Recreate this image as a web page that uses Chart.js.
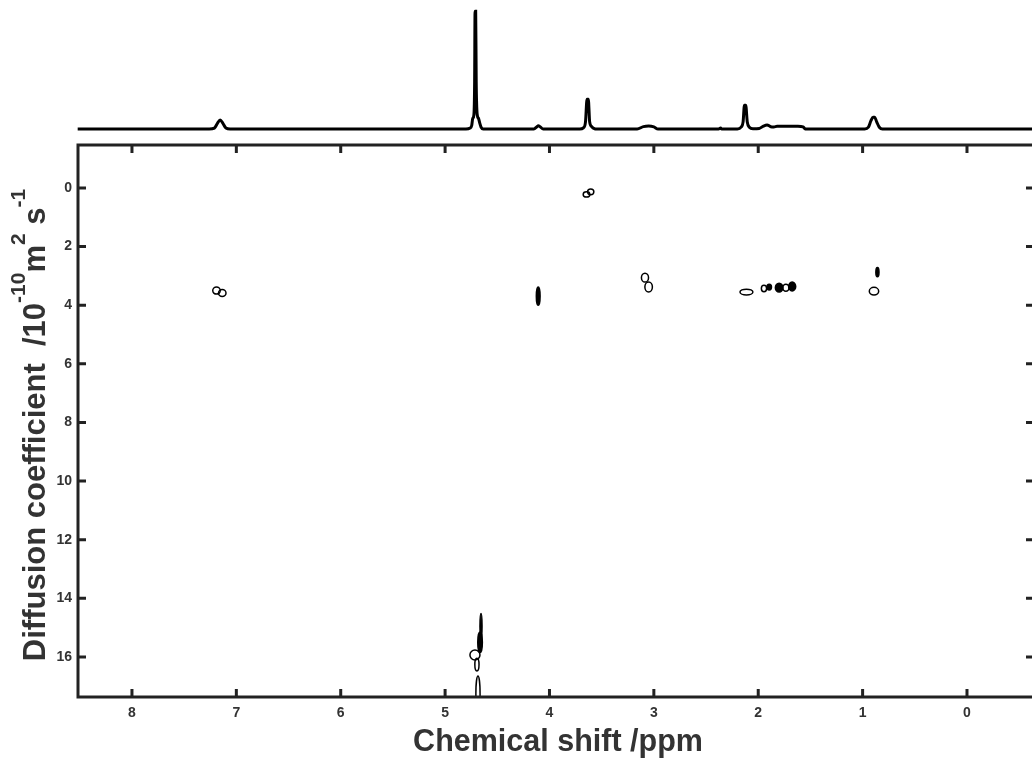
<!DOCTYPE html>
<html>
<head>
<meta charset="utf-8">
<title>DOSY</title>
<script src="https://cdn.jsdelivr.net/npm/chart.js@4.4.1/dist/chart.umd.min.js"></script>
<style>
  html, body { margin: 0; padding: 0; background: #fff; overflow: hidden; }
  #wrap { position: relative; width: 1032px; height: 758px; overflow: hidden; }
  canvas { position: absolute; left: 0; top: 0; }
</style>
</head>
<body>
<div id="wrap">
  <canvas id="dosy" width="1040" height="758"></canvas>
  <canvas id="spectrum" width="1040" height="145"></canvas>
</div>
<script>
// 1H projection (ppm, intensity)
const specPpm = [8.52, 7.26, 7.21, 7.18, 7.155, 7.13, 7.10, 7.06,
  4.80, 4.76, 4.745, 4.735, 4.724, 4.717, 4.713, 4.707, 4.702, 4.692, 4.68, 4.668, 4.655, 4.635,
  4.15, 4.12, 4.107, 4.09, 4.06,
  3.71, 3.675, 3.655, 3.64, 3.628, 3.615, 3.595, 3.57, 3.55,
  3.16, 3.10, 3.05, 3.00, 2.96,
  2.38, 2.36, 2.35,
  2.20, 2.165, 2.145, 2.132, 2.120, 2.105, 2.085, 2.05,
  1.99, 1.95, 1.915, 1.88, 1.85, 1.82, 1.62, 1.57, 1.55,
  0.98, 0.945, 0.92, 0.90, 0.885, 0.865, 0.84, 0.81, -0.65];
const specInt = [0, 0, 0.8, 5, 7.6, 5, 0.8, 0,
  0, 0.8, 3, 9, 12, 40, 99, 99, 40, 12, 9, 5, 1.5, 0,
  0, 2, 2.8, 2, 0,
  0, 1, 6, 25, 25, 6, 2, 0.3, 0,
  0, 2, 2.5, 1.8, 0,
  0, 0.8, 0,
  0, 1.5, 6, 20, 20, 6, 1.5, 0.3,
  0.5, 2.5, 3.4, 2.0, 1.8, 2.3, 2.3, 1.8, 0,
  0, 1.5, 7, 10, 10, 6, 1.5, 0, 0];

// contour islands: centre (ppm, D) and half sizes in the same units
const blobPpm  = [7.19, 7.135, 3.645, 3.605, 3.085, 3.05, 2.113, 1.945, 1.895, 1.80, 1.735, 1.675, 0.858, 0.891, 4.108, 4.656, 4.665, 4.714, 4.695, 4.685];
const blobD    = [3.50, 3.58, 0.22, 0.13, 3.06, 3.38, 3.55, 3.43, 3.38, 3.40, 3.40, 3.36, 2.87, 3.52, 3.69, 14.95, 15.5, 15.93, 16.26, 17.25];
const blobRx   = [0.036, 0.036, 0.032, 0.03, 0.034, 0.036, 0.062, 0.025, 0.022, 0.036, 0.03, 0.034, 0.015, 0.045, 0.018, 0.010, 0.022, 0.048, 0.02, 0.02];
const blobRy   = [0.12, 0.12, 0.09, 0.10, 0.15, 0.17, 0.10, 0.11, 0.10, 0.15, 0.12, 0.15, 0.16, 0.13, 0.31, 0.43, 0.35, 0.17, 0.22, 0.60];
const blobFill = [0, 0, 0, 0, 0, 0, 0, 0, 1, 1, 0, 1, 1, 0, 1, 1, 1, 0, 0, 0];

const xTicks = [8, 7, 6, 5, 4, 3, 2, 1, 0];
const yTicks = [0, 2, 4, 6, 8, 10, 12, 14, 16];
const xMin = -0.642, xMax = 8.517;
const yMin = -1.467, yMax = 17.365;

const fontFamily = '"Liberation Sans", Arial, sans-serif';
const ink = "#222";
const labelColor = "#333";

const blobPlugin = {
  id: "blobs",
  afterDatasetsDraw(chart) {
    const { ctx, chartArea: a, scales: { x, y } } = chart;
    ctx.save();
    ctx.beginPath();
    ctx.rect(a.left, a.top, a.right - a.left, a.bottom - a.top);
    ctx.clip();
    ctx.lineWidth = 1.5;
    ctx.strokeStyle = "#000";
    ctx.fillStyle = "#000";
    blobPpm.forEach((p, i) => {
      const cx = x.getPixelForValue(p);
      const cy = y.getPixelForValue(blobD[i]);
      const rx = Math.abs(x.getPixelForValue(p + blobRx[i]) - cx);
      const ry = Math.abs(y.getPixelForValue(blobD[i] + blobRy[i]) - cy);
      ctx.beginPath();
      ctx.ellipse(cx, cy, rx, ry, 0, 0, Math.PI * 2);
      if (blobFill[i]) ctx.fill();
      ctx.stroke();
    });
    ctx.restore();
  }
};

const framePlugin = {
  id: "frame",
  afterDraw(chart) {
    const { ctx, chartArea: a, scales: { x, y } } = chart;
    const tick = 8;
    ctx.save();
    ctx.strokeStyle = ink;
    ctx.lineWidth = 3;
    ctx.lineCap = "butt";
    ctx.strokeRect(a.left, a.top, a.right - a.left, a.bottom - a.top);
    ctx.beginPath();
    xTicks.forEach(v => {
      const px = x.getPixelForValue(v);
      ctx.moveTo(px, a.bottom); ctx.lineTo(px, a.bottom - tick);
      ctx.moveTo(px, a.top); ctx.lineTo(px, a.top + tick);
    });
    yTicks.forEach(v => {
      const py = y.getPixelForValue(v);
      ctx.moveTo(a.left, py); ctx.lineTo(a.left + tick, py);
      ctx.moveTo(a.right, py); ctx.lineTo(a.right - tick, py);
    });
    ctx.stroke();
    ctx.restore();
  }
};

// axis titles, y title carries superscripts
const titlePlugin = {
  id: "titles",
  afterDraw(chart) {
    const { ctx } = chart;
    ctx.save();
    ctx.fillStyle = labelColor;
    ctx.textBaseline = "alphabetic";
    ctx.textAlign = "center";
    ctx.font = "bold 30.5px " + fontFamily;
    ctx.fillText("Chemical shift /ppm", 558, 751);

    const parts = [
      ["Diffusion coefficient  /10", 31, 0],
      ["-10", 21, 20],
      ["m", 31, 0],
      ["2", 21, 20],
      [" s", 31, 0],
      ["-1", 21, 20]
    ];
    ctx.textAlign = "left";
    let total = 0;
    parts.forEach(([t, s]) => { ctx.font = "bold " + s + "px " + fontFamily; total += ctx.measureText(t).width; });
    ctx.translate(45, 425);
    ctx.rotate(-Math.PI / 2);
    let pos = -total / 2;
    parts.forEach(([t, s, lift]) => {
      ctx.font = "bold " + s + "px " + fontFamily;
      ctx.fillText(t, pos, -lift);
      pos += ctx.measureText(t).width;
    });
    ctx.restore();
  }
};

new Chart(document.getElementById("dosy"), {
  type: "scatter",
  data: {
    datasets: [{
      data: blobPpm.map((p, i) => ({ x: p, y: blobD[i] })),
      pointRadius: 0
    }]
  },
  options: {
    responsive: false,
    animation: false,
    devicePixelRatio: 1,
    layout: { padding: { top: 145, right: 6, left: 0, bottom: 0 } },
    plugins: { legend: { display: false }, tooltip: { enabled: false } },
    scales: {
      x: {
        type: "linear",
        reverse: true,
        min: xMin,
        max: xMax,
        afterBuildTicks: s => { s.ticks = xTicks.map(v => ({ value: v })); },
        afterFit: s => { s.height = 61; },
        grid: { display: false, drawTicks: false },
        border: { display: false },
        ticks: { font: { family: fontFamily, size: 14, weight: "bold" }, color: labelColor, padding: 8, maxRotation: 0, autoSkip: false }
      },
      y: {
        type: "linear",
        reverse: true,
        min: yMin,
        max: yMax,
        afterBuildTicks: s => { s.ticks = yTicks.map(v => ({ value: v })); },
        afterFit: s => { s.width = 78; },
        grid: { display: false, drawTicks: false },
        border: { display: false },
        ticks: { font: { family: fontFamily, size: 14, weight: "bold" }, color: labelColor, padding: 6, autoSkip: false }
      }
    }
  },
  plugins: [blobPlugin, framePlugin, titlePlugin]
});

new Chart(document.getElementById("spectrum"), {
  type: "line",
  data: {
    datasets: [{
      data: specPpm.map((p, i) => ({ x: p, y: specInt[i] })),
      borderColor: "#000",
      borderWidth: 3,
      pointRadius: 0,
      cubicInterpolationMode: "monotone",
      fill: false,
      clip: false
    }]
  },
  options: {
    responsive: false,
    animation: false,
    devicePixelRatio: 1,
    layout: { padding: { left: 78, right: 6, top: 10, bottom: 5 } },
    plugins: { legend: { display: false }, tooltip: { enabled: false } },
    scales: {
      x: { type: "linear", reverse: true, min: xMin, max: xMax, display: false },
      y: { type: "linear", min: -9.2, max: 100, display: false }
    }
  }
});
</script>
</body>
</html>
